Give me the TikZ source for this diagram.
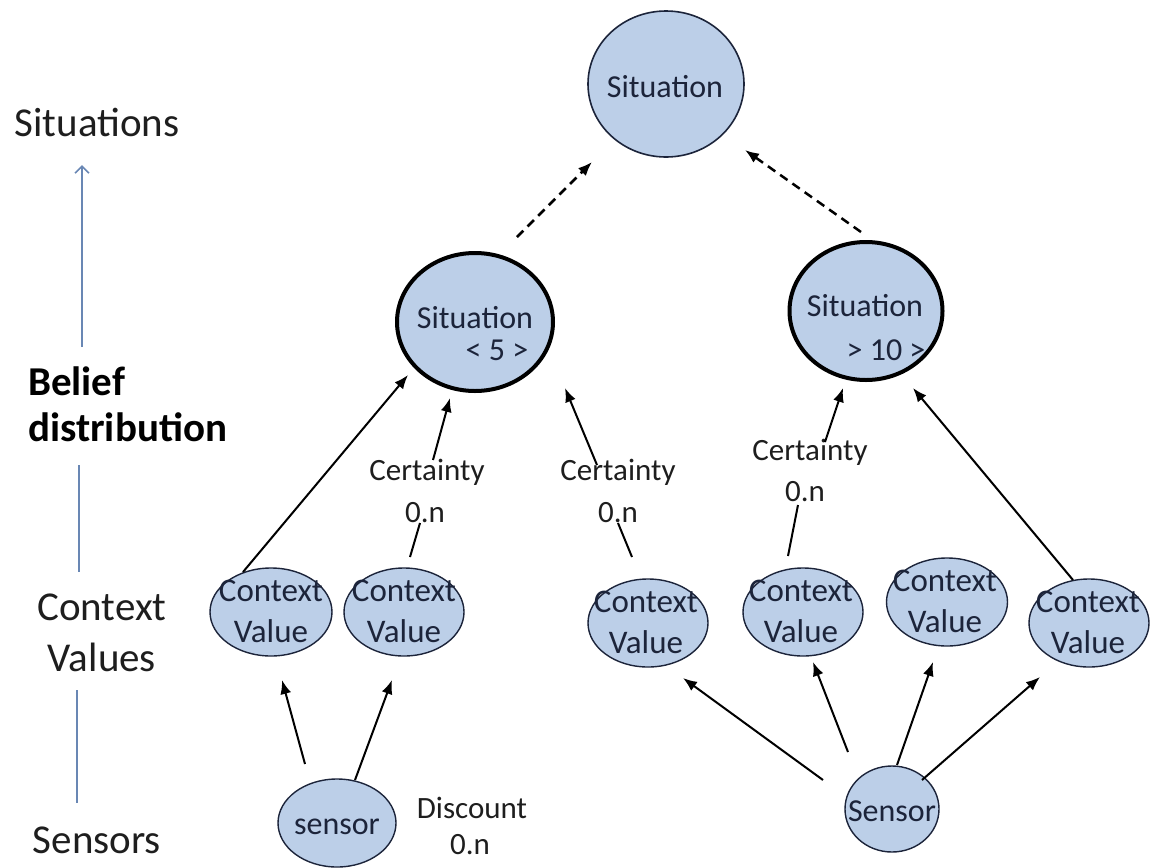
\documentclass[tikz,border=0pt]{standalone}
\usepackage{fontspec}
\setmainfont{Carlito}
\usetikzlibrary{shapes.geometric,arrows.meta}
\definecolor{nodefill}{RGB}{188,207,232}
\definecolor{nodetext}{RGB}{28,36,58}
\definecolor{sidelink}{RGB}{105,135,180}
\definecolor{labeltext}{RGB}{30,30,30}
\tikzset{
  ell/.style={ellipse, draw=nodetext, line width=1.4pt, fill=nodefill, inner sep=0pt},
  sit/.style={ellipse, draw=black, line width=4pt, fill=nodefill, inner sep=0pt},
  cvtext/.style={font=\fontsize{33}{41}\selectfont, text=nodetext, align=center, inner sep=0pt},
  ntext/.style={font=\fontsize{32}{38}\selectfont, text=nodetext, inner sep=0pt},
  lbl/.style={font=\fontsize{31}{38}\selectfont, text=labeltext, inner sep=0pt},
  side/.style={font=\fontsize{41}{48}\selectfont, text=labeltext, inner sep=0pt},
  sidebold/.style={font=\fontsize{41}{48}\selectfont\bfseries, text=black, inner sep=0pt, anchor=base west},
  arr/.style={line width=2pt, -{Latex[length=14pt,width=11pt]}},
  seg/.style={line width=2pt},
  dasharr/.style={line width=2.5pt, dash pattern=on 9pt off 6pt, -{Latex[length=14pt,width=11pt]}},
  sideline/.style={line width=1.6pt, draw=sidelink},
}
\begin{document}
\begin{tikzpicture}[x=1pt,y=-1pt]
\useasboundingbox (0,0) rectangle (1152,868);

% ---- left column labels
\node[side] (lsit) at (97,122) {Situations};
\node[sidebold] (lbel) at (28,395) {Belief};
\node[sidebold] (ldis) at (28,441) {distribution};
\node[side] (lctx) at (102,607) {Context};
\node[side] (lval) at (102,657) {Values};
\node[side] (lsen) at (97,840) {Sensors};
\coordinate (sa1) at (82,347);
\coordinate (sa2) at (82,165);
\coordinate (sb1) at (79,465);
\coordinate (sb2) at (79,572);
\coordinate (sc1) at (77,690);
\coordinate (sc2) at (77,803);
\draw[sideline, -{Straight Barb[length=7pt,width=14pt]}] (sa1) -- (sa2);
\draw[sideline] (sb1) -- (sb2);
\draw[sideline] (sc1) -- (sc2);

% ---- situations
\node[ell, line width=1.6pt, minimum width=156pt, minimum height=146pt] (top) at (666,84) {};
\node[ntext] (topt) at (665,87) {Situation};

\node[sit, minimum width=156pt, minimum height=138pt] (s5) at (475,322) {};
\node[ntext] (s5a) at (475,318) {Situation};
\node[ntext] (s5b) at (497,350) {< 5 >};

\node[sit, minimum width=153pt, minimum height=138pt] (s10) at (866,311) {};
\node[ntext] (s10a) at (865,306) {Situation};
\node[ntext] (s10b) at (886,350) {> 10 >};

% ---- context values
\node[ell, minimum width=122pt, minimum height=88pt] (cv1) at (271,612) {};
\node[cvtext] (cv1t) at (271,611) {Context\\Value};
\node[ell, minimum width=120pt, minimum height=88pt] (cv2) at (404,612) {};
\node[cvtext] (cv2t) at (404,611) {Context\\Value};
\node[ell, minimum width=120pt, minimum height=88pt] (cv3) at (648,623) {};
\node[cvtext] (cv3t) at (646,622) {Context\\Value};
\node[ell, minimum width=120pt, minimum height=88pt] (cv4) at (803,612) {};
\node[cvtext] (cv4t) at (801,611) {Context\\Value};
\node[ell, minimum width=121pt, minimum height=88pt] (cv5) at (947,602) {};
\node[cvtext] (cv5t) at (945,601) {Context\\Value};
\node[ell, minimum width=120pt, minimum height=88pt] (cv6) at (1089,623) {};
\node[cvtext] (cv6t) at (1088,622) {Context\\Value};

% ---- sensors
\node[ell, minimum width=118pt, minimum height=88pt] (sensL) at (337,823) {};
\node[ntext] (sensLt) at (337,827) {sensor};
\node[ell, minimum width=94pt, minimum height=86pt] (sensR) at (892,809) {};
\node[ntext] (sensRt) at (892,811) {Sensor};

% ---- free labels
\node[lbl] (disc) at (472,808) {Discount};
\node[lbl] (discn) at (470,845) {0.n};
\node[lbl] (cer1) at (427,472) {Certainty};
\node[lbl] (cer1n) at (425,513) {0.n};
\node[lbl] (cer2) at (618,472) {Certainty};
\node[lbl] (cer2n) at (618,513) {0.n};
\node[lbl] (cer3) at (810,452) {Certainty};
\node[lbl] (cer3n) at (805,492) {0.n};

% ---- connector end points
\coordinate (d1a) at (517,237);  \coordinate (d1b) at (592,162);
\coordinate (d2a) at (861,232);  \coordinate (d2b) at (745,150);
\coordinate (a1a) at (243,572);  \coordinate (a1b) at (408,375);
\coordinate (a2a) at (410,557);  \coordinate (a2b) at (420,523);
\coordinate (a2c) at (433,460);  \coordinate (a2d) at (450,398);
\coordinate (a3a) at (632,557);  \coordinate (a3b) at (618,523);
\coordinate (a3c) at (597,465);  \coordinate (a3d) at (565,388);
\coordinate (a4a) at (788,556);  \coordinate (a4b) at (798,505);
\coordinate (a4c) at (825,442);  \coordinate (a4d) at (843,388);
\coordinate (a6a) at (1073,580); \coordinate (a6b) at (913,388);
\coordinate (l1a) at (305,764);  \coordinate (l1b) at (282,680);
\coordinate (l2a) at (355,780);  \coordinate (l2b) at (392,680);
\coordinate (r3a) at (823,780);  \coordinate (r3b) at (683,678);
\coordinate (r4a) at (848,752);  \coordinate (r4b) at (813,662);
\coordinate (r5a) at (897,765);  \coordinate (r5b) at (933,662);
\coordinate (r6a) at (922,780);  \coordinate (r6b) at (1040,677);

% ---- connectors
\draw[dasharr] (d1a) -- (d1b);
\draw[dasharr] (d2a) -- (d2b);
\draw[arr] (a1a) -- (a1b);
\draw[seg] (a2a) -- (a2b);
\draw[arr] (a2c) -- (a2d);
\draw[seg] (a3a) -- (a3b);
\draw[arr] (a3c) -- (a3d);
\draw[seg] (a4a) -- (a4b);
\draw[arr] (a4c) -- (a4d);
\draw[arr] (a6a) -- (a6b);
\draw[arr] (l1a) -- (l1b);
\draw[arr] (l2a) -- (l2b);
\draw[arr] (r3a) -- (r3b);
\draw[arr] (r4a) -- (r4b);
\draw[arr] (r5a) -- (r5b);
\draw[arr] (r6a) -- (r6b);
\end{tikzpicture}
\end{document}
